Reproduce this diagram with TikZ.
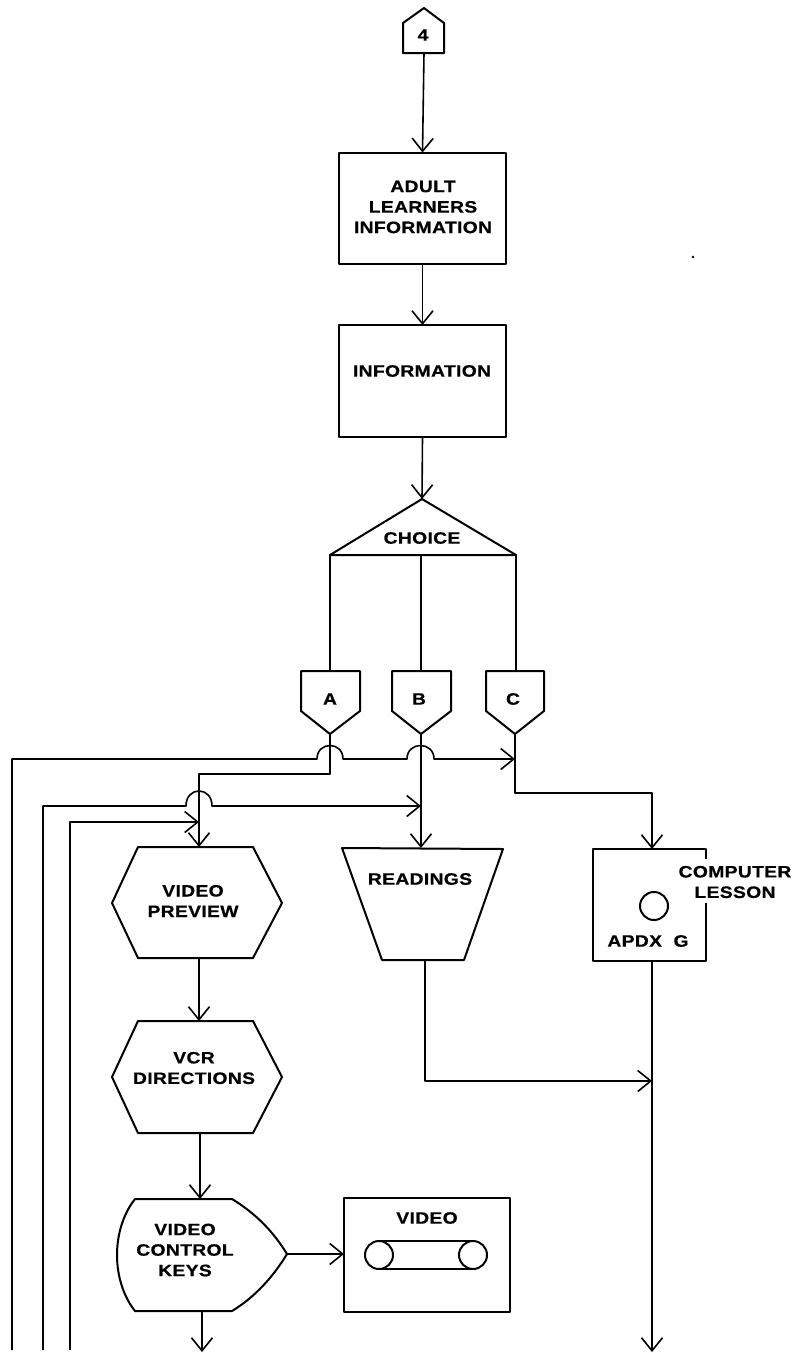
\documentclass[tikz,border=0pt]{standalone}
\usepackage{fontspec}
\setmainfont[FakeStretch=1.17,LetterSpace=2,BoldFont={Liberation Sans Bold},BoldFeatures={FakeBold=0.6}]{Liberation Sans}
\usetikzlibrary{arrows.meta}
\tikzset{
  conn/.style={line width=1.6pt,line join=round},
  arr/.style={conn,-{Straight Barb[length=13pt,width=21pt,line width=1.6pt]}},
  shapeline/.style={line width=2pt,line join=round},
  boxnode/.style={draw,shapeline,inner sep=0pt,outer sep=0pt},
  txt/.style={font=\fontsize{16.5}{20.5}\selectfont\bfseries,align=center,inner sep=0pt},
}
\begin{document}
\begin{tikzpicture}[x=1pt,y=-1pt]
\useasboundingbox (0,0) rectangle (799,1353);

% --- shapes ---
\draw[shapeline] (424,8) -- (444,23) -- (444,53) -- (403,53) -- (403,23) -- cycle;
\node[txt] (four) at (423,35) {4};
\coordinate (fourb) at (424,53);

\node[boxnode,minimum width=167pt,minimum height=111pt] (adult) at (422.5,208) {};
\node[txt] (adultT) at (423,207) {ADULT\\LEARNERS\\INFORMATION};
\node[boxnode,minimum width=167pt,minimum height=112pt] (info) at (422.5,381) {};
\node[txt] (infoT) at (422,371) {INFORMATION};

\coordinate (chA) at (422,499);
\coordinate (chL) at (330,555);
\coordinate (chM) at (421,555);
\coordinate (chR) at (516,555);
\draw[shapeline] (chA) -- (chR) -- (chL) -- cycle;
\node[txt] (choice) at (422,538) {CHOICE};

% A B C
\draw[shapeline] (301,671) -- (360,671) -- (360,711) -- (330,734) -- (301,711) -- cycle;
\draw[shapeline] (392,671) -- (451,671) -- (451,711) -- (421,734) -- (392,711) -- cycle;
\draw[shapeline] (486,671) -- (544,671) -- (544,711) -- (515,734) -- (486,711) -- cycle;
\node[txt] (A) at (330,699) {A};
\node[txt] (B) at (419,699) {B};
\node[txt] (C) at (513,699) {C};
\coordinate (At) at (330,671); \coordinate (Ab) at (330,734);
\coordinate (Bt) at (421,671); \coordinate (Bb) at (421,734);
\coordinate (Ct) at (516,671); \coordinate (Cb) at (515,734);

% video preview
\draw[shapeline] (112,903) -- (138,847) -- (253,847) -- (282,903) -- (253,958) -- (138,958) -- cycle;
\node[txt] (prev) at (193,901) {VIDEO\\PREVIEW};
\coordinate (prevt) at (199,847); \coordinate (prevb) at (199,958);

% vcr
\draw[shapeline] (112,1077) -- (138,1021) -- (253,1021) -- (282,1077) -- (253,1133) -- (138,1133) -- cycle;
\node[txt] (vcr) at (194,1068) {VCR\\DIRECTIONS};
\coordinate (vcrt) at (199,1021); \coordinate (vcrb) at (200,1133);

% video control keys
\draw[shapeline] (135,1199) -- (232,1199) .. controls (255,1213) and (273,1231) .. (287,1254)
  .. controls (273,1277) and (255,1297) .. (232,1311) -- (135,1311)
  .. controls (123,1296) and (117,1275) .. (117,1255) .. controls (117,1235) and (123,1214) .. cycle;
\node[txt] (keys) at (185,1250) {VIDEO\\CONTROL\\KEYS};
\coordinate (keyst) at (200,1199); \coordinate (keysb) at (202,1311); \coordinate (keysr) at (287,1254);
\coordinate (keysend) at (202,1352);

% video box
\node[boxnode,minimum width=166pt,minimum height=114pt] (video) at (427,1255) {};
\node[txt] (videoT) at (427,1218) {VIDEO};
\draw[shapeline] (379,1241) -- (473,1241) (379,1269) -- (473,1269);
\node[draw,shapeline,circle,fill=white,minimum size=28pt,inner sep=0pt] (reelL) at (379,1255) {};
\node[draw,shapeline,circle,fill=white,minimum size=28pt,inner sep=0pt] (reelR) at (473,1255) {};

% readings
\draw[shapeline] (342,848) -- (503,849) -- (464,960) -- (382,960) -- cycle;
\node[txt] (read) at (420,879) {READINGS};
\coordinate (readt) at (421,848); \coordinate (readb) at (425,960);

% computer lesson
\draw[shapeline] (706,859) -- (706,849) -- (593,849) -- (593,961) -- (706,961) -- (706,903);
\node[draw,shapeline,circle,minimum size=28pt,inner sep=0pt] (disk) at (654,906) {};
\node[txt] (lesson) at (735,882) {COMPUTER\\LESSON};
\node[txt] (apdx) at (648,941) {APDX\hspace{0.7em}G};
\coordinate (compt) at (652,849); \coordinate (compb) at (652,961);
\coordinate (compend) at (652,1352);

% speck of the scan
\fill (693,257) circle[radius=1.3pt];

% --- connectors ---
\draw[arr] (fourb) -- (adult.north);
\draw[arr] (adult.south) -- (info.north);
\draw[arr] (info.south) -- (chA);
\draw[conn] (chL) -- (At);
\draw[conn] (chM) -- (Bt);
\draw[conn] (chR) -- (Ct);

% bus junctions
\coordinate (Cj) at (515,759);
\coordinate (Bj) at (421,806);
\coordinate (Aj) at (199,822);
\coordinate (L1) at (12,1350);
\coordinate (L2) at (43,1350);
\coordinate (L3) at (70,1350);

% feedback lines
\draw[arr] (L1) -- (12,759) -- (317,759) .. controls (317,741) and (343,741) .. (343,759)
  -- (407,759) .. controls (407,741) and (434,741) .. (434,759) -- (Cj);
\draw[arr] (L2) -- (43,806) -- (186,806) .. controls (186,786) and (212,786) .. (212,806) -- (Bj);
\draw[arr] (L3) -- (70,822) -- (Aj);

\draw[arr] (Ab) -- (330,774) -- (199,774) -- (prevt);
\draw[arr] (Bb) -- (readt);
\draw[arr] (Cb) -- (515,793) -- (652,793) -- (compt);
\draw[arr] (prevb) -- (vcrt);
\draw[arr] (vcrb) -- (keyst);
\draw[arr] (keysr) -- (video.west |- keysr);
\draw[arr] (keysb) -- (keysend);
\coordinate (compj) at (652,1081);
\draw[arr] (readb) -- (425,1081) -- (compj);
\draw[arr] (compb) -- (compend);
\end{tikzpicture}
\end{document}
